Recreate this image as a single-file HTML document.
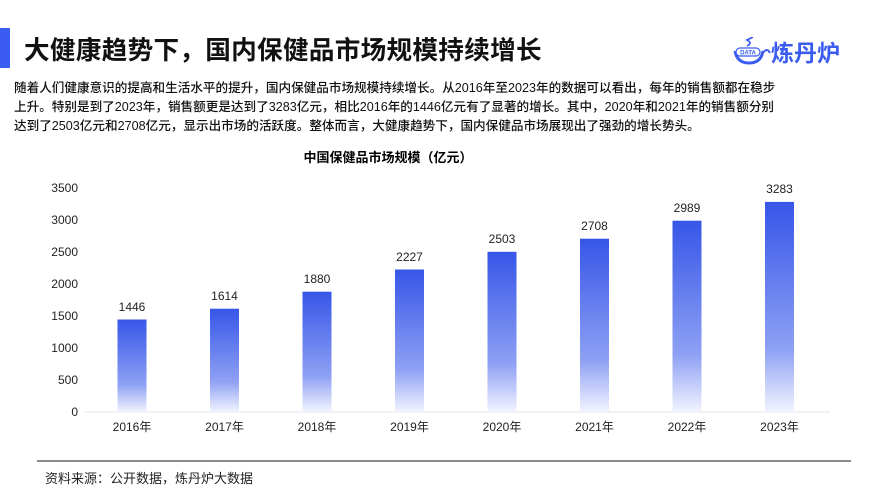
<!DOCTYPE html>
<html><head><meta charset="utf-8"><style>
*{margin:0;padding:0}
body{width:889px;height:500px;background:#fff;position:relative;overflow:hidden;font-family:"Liberation Sans","Noto Sans CJK SC",sans-serif;color:#111}
.bar{position:absolute;left:0;top:28px;width:10px;height:40px;background:#3a5cf0}
h1{position:absolute;left:24px;top:30px;font-size:25.6px;font-weight:bold;letter-spacing:0.3px;white-space:nowrap}
.p{position:absolute;left:14px;top:79px;width:860px;white-space:nowrap;font-size:12.6px;line-height:19px;font-weight:500}
.logo{position:absolute;left:733px;top:34px;font-size:23px;font-weight:bold;color:#3a5cf0}
</style></head><body>
<div class="bar"></div>
<h1>大健康趋势下，国内保健品市场规模持续增长</h1>
<div class="logo"><svg width="38" height="30" viewBox="0 0 38 30" style="vertical-align:-6px"><path d="M2 14 Q4 26 16 26 Q28 26 30 14" fill="none" stroke="#3a5cf0" stroke-width="3"/><path d="M30 16 Q34 10 37 16" fill="none" stroke="#3a5cf0" stroke-width="2"/><rect x="3" y="11" width="24" height="8" rx="4" fill="#fff" stroke="#3a5cf0" stroke-width="1.2"/><text x="15" y="17.5" font-size="6" font-weight="bold" fill="#3a5cf0" text-anchor="middle" font-family="Liberation Sans">DATA</text><path d="M14 9 Q20 6 14 3 Q18 1 20 0" fill="none" stroke="#3a5cf0" stroke-width="1.8"/></svg>炼丹炉</div>
<div class="p">随着人们健康意识的提高和生活水平的提升，国内保健品市场规模持续增长。从2016年至2023年的数据可以看出，每年的销售额都在稳步<br>上升。特别是到了2023年，销售额更是达到了3283亿元，相比2016年的1446亿元有了显著的增长。其中，2020年和2021年的销售额分别<br>达到了2503亿元和2708亿元，显示出市场的活跃度。整体而言，大健康趋势下，国内保健品市场展现出了强劲的增长势头。</div>
<svg width="889" height="500" style="position:absolute;left:0;top:0" font-family="Liberation Sans, Noto Sans CJK SC, sans-serif">
<defs><linearGradient id="g" x1="0" y1="0" x2="0" y2="1"><stop offset="0" stop-color="#3656e8"/><stop offset="0.7" stop-color="#8ea0f4"/><stop offset="1" stop-color="#f2f4ff"/></linearGradient></defs>
<text x="388" y="162" font-size="13" font-weight="bold" text-anchor="middle">中国保健品市场规模（亿元）</text>
<g font-size="12" text-anchor="end" fill="#222">
<text x="78" y="416">0</text><text x="78" y="384">500</text><text x="78" y="352">1000</text><text x="78" y="320">1500</text><text x="78" y="288">2000</text><text x="78" y="256">2500</text><text x="78" y="224">3000</text><text x="78" y="192">3500</text>
</g>
<line x1="85" y1="412" x2="830" y2="412" stroke="#e4e6ea" stroke-width="1"/>
<line x1="37" y1="461" x2="851" y2="461" stroke="#666" stroke-width="1.5"/>
<text x="45" y="483" font-size="13" fill="#222">资料来源：公开数据，炼丹炉大数据</text>
<g font-size="12" text-anchor="middle" fill="#222">
<rect x="117.5" y="319.5" width="29" height="92.5" fill="url(#g)"/><text x="132" y="311">1446</text><text x="132" y="431">2016年</text>
<rect x="210" y="308.7" width="29" height="103.3" fill="url(#g)"/><text x="224.5" y="300">1614</text><text x="224.5" y="431">2017年</text>
<rect x="302.5" y="291.7" width="29" height="120.3" fill="url(#g)"/><text x="317" y="283">1880</text><text x="317" y="431">2018年</text>
<rect x="395" y="269.5" width="29" height="142.5" fill="url(#g)"/><text x="409.5" y="261">2227</text><text x="409.5" y="431">2019年</text>
<rect x="487.5" y="251.8" width="29" height="160.2" fill="url(#g)"/><text x="502" y="243">2503</text><text x="502" y="431">2020年</text>
<rect x="580" y="238.7" width="29" height="173.3" fill="url(#g)"/><text x="594.5" y="230">2708</text><text x="594.5" y="431">2021年</text>
<rect x="672.5" y="220.7" width="29" height="191.3" fill="url(#g)"/><text x="687" y="212">2989</text><text x="687" y="431">2022年</text>
<rect x="765" y="201.9" width="29" height="210.1" fill="url(#g)"/><text x="779.5" y="193">3283</text><text x="779.5" y="431">2023年</text>
</g>
</svg>
</body></html>
